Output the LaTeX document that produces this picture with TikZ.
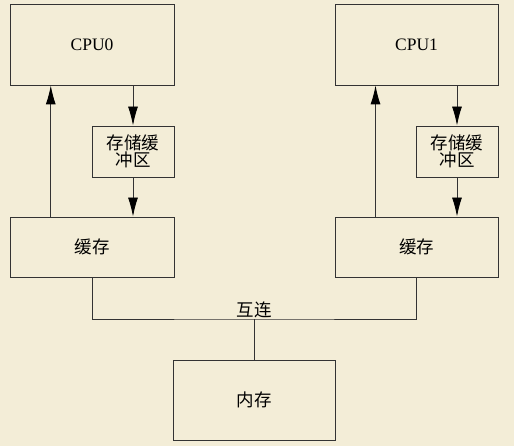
\documentclass[tikz,border=0pt]{standalone}
\usepackage{fontspec}
\setmainfont{Liberation Serif}
\newfontfamily\cjk{Noto Sans CJK SC}
\usepackage{xcolor}
\usepackage{tikz}
\usetikzlibrary{arrows.meta, positioning, calc}
\definecolor{paper}{HTML}{F3EDD7}
\definecolor{ink}{HTML}{333333}

\begin{document}
\begin{tikzpicture}[x=1pt, y=-1pt,
        box/.style={draw=ink, line width=0.9pt, inner sep=0pt, align=center,
            font=\fontsize{17.5}{20}\selectfont},
        conn/.style={draw=ink, line width=0.9pt},
        arr/.style={conn, -{Latex[length=19pt, width=10pt, color=black]}}]
        % Background
        \fill[paper] (0,0) rectangle (514,446);
        \useasboundingbox (0,0) rectangle (514,446);

        % Nodes
        \node[box, minimum width=164pt, minimum height=81pt] (cpu0) at (92,44.5) {CPU0};
        \node[box, minimum width=163pt, minimum height=81pt] (cpu1) at (416.5,44.5) {CPU1};
        \node[box, minimum width=82pt, minimum height=51pt] (sb0) at (133,151.5) {\cjk 存储缓\\[-3pt]\cjk 冲区};
        \node[box, minimum width=82pt, minimum height=51pt] (sb1) at (457,151.5) {\cjk 存储缓\\[-3pt]\cjk 冲区};
        \node[box, minimum width=164pt, minimum height=60pt] (cache0) at (92,247) {\cjk 缓存};
        \node[box, minimum width=163pt, minimum height=60pt] (cache1) at (416.5,247) {\cjk 缓存};
        \node[box, minimum width=162pt, minimum height=80pt] (mem) at (254,400) {\cjk 内存};

        % Arrows
        \draw[arr] ($(cache0.north west)!0.25!(cache0.north east)$) -- ($(cpu0.south west)!0.25!(cpu0.south east)$);
        \draw[arr] (sb0 |- cpu0.south) -- (sb0.north);
        \draw[arr] (sb0.south) -- (sb0 |- cache0.north);
        \draw[arr] ($(cache1.north west)!0.25!(cache1.north east)$) -- ($(cpu1.south west)!0.25!(cpu1.south east)$);
        \draw[arr] (sb1 |- cpu1.south) -- (sb1.north);
        \draw[arr] (sb1.south) -- (sb1 |- cache1.north);

        % Interconnect
        \coordinate (bus) at (mem.north |- 0,319);
        \draw[conn] (cache0.south) |- (bus) -| (cache1.south);
        \draw[conn] (bus) -- (mem.north);
        \node[above=0pt of bus, font=\fontsize{17.5}{20}\selectfont\cjk, inner sep=1pt] (buslabel) {互连};
\end{tikzpicture}
\end{document}
